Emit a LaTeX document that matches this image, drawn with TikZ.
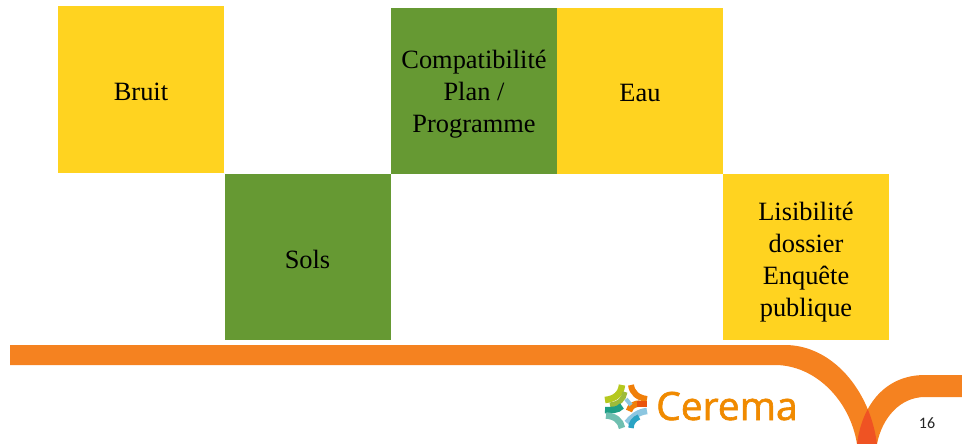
\documentclass[tikz,border=0pt]{standalone}
\usepackage{fontspec}
\setmainfont{Liberation Serif}
\newfontfamily\logofont[FakeBold=1.6]{Open Sans}
\newfontfamily\pagefont{Carlito}
\definecolor{tileyellow}{HTML}{FFD320}
\definecolor{tilegreen}{HTML}{669933}
\definecolor{bandorange}{HTML}{F58220}
\definecolor{bandred}{HTML}{EF5323}
\definecolor{logoorange}{HTML}{F08A00}
\definecolor{lgLime}{HTML}{B5C81E}
\definecolor{lgOlive}{HTML}{9DBB3A}
\definecolor{lgOrange}{HTML}{F07F09}
\definecolor{lgRed}{HTML}{E9540D}
\definecolor{lgTeal}{HTML}{1E9E85}
\definecolor{lgPale}{HTML}{6FBFB0}
\definecolor{lgSky}{HTML}{8CC6E0}
\definecolor{lgBlue}{HTML}{2AA3C4}
\tikzset{
  tile/.style={minimum width=166pt,minimum height=166pt,inner sep=0pt,outer sep=0pt},
  tiletext/.style={inner sep=0pt,outer sep=0pt,align=center,font=\fontsize{26.4pt}{32pt}\selectfont,text=black},
  ytile/.style={tile,fill=tileyellow},
  gtile/.style={tile,fill=tilegreen},
  lgarc/.style={line width=#1,line cap=butt}
}
\newcommand{\bandA}{(10,345) -- (785,345) .. controls (832,345) and (870,390) .. (877,444)
  -- (857,444) .. controls (850,400) and (815,365) .. (775,365) -- (10,365) -- cycle}
\newcommand{\bandB}{(962,375) -- (925,375) .. controls (885,375) and (862,405) .. (857,444)
  -- (877,444) .. controls (882,418) and (900,397) .. (925,397) -- (962,397) -- cycle}
\begin{document}
\begin{tikzpicture}[x=1pt,y=-1pt]
\useasboundingbox (0,0) rectangle (962,444);
\node[ytile,label={[tiletext,yshift=-2pt]center:Bruit}] (bruit) at (141,89.5) {};
\node[gtile,label={[tiletext,yshift=-2pt]center:Sols}] (sols) at (307.5,257) {};
\node[gtile,label={[tiletext,yshift=-3.5pt]center:{Compatibilité\\Plan /\\Programme}}] (compat) at (474,91) {};
\node[ytile,label={[tiletext,yshift=-2pt]center:Eau}] (eau) at (640,91) {};
\node[ytile,label={[tiletext,yshift=-5pt]center:{Lisibilité\\dossier\\Enquête\\publique}}] (lisib) at (806,257) {};
\fill[bandorange] \bandA;
\fill[bandorange] \bandB;
\begin{scope}
  \clip \bandA;
  \fill[bandred] \bandB;
\end{scope}
% logo
\draw[lgarc=6.5pt,lgLime] (622,385) .. controls (621,394) and (615,399) .. (605,400);
\draw[lgarc=5pt,lgOlive] (625,392) .. controls (624,399) and (619,404) .. (610,405);
\draw[lgarc=6pt,lgOrange] (631,385) .. controls (632,393) and (638,398) .. (647,399);
\draw[lgarc=6.5pt,lgOrange] (629,411) .. controls (630,406) and (635,403.5) .. (640,403.5);
\draw[lgarc=6pt,lgRed] (637,403.5) -- (647,403.5);
\draw[lgarc=6.5pt,lgTeal] (605,410) .. controls (611,410) and (617,411) .. (622,406);
\draw[lgarc=6.5pt,lgPale] (622,428) .. controls (621,421) and (615,416) .. (606,415.5);
\draw[lgarc=6.5pt,lgSky] (647,411) .. controls (638,412) and (632,417) .. (627,423);
\draw[lgarc=5.5pt,lgBlue] (631,428) .. controls (631,423) and (634,419) .. (639,417);
\draw[lgarc=4pt,lgSky] (626,399) -- (631,405);
\node[inner sep=0pt,anchor=base west,text=logoorange,font=\logofont\fontsize{39pt}{39pt}\selectfont] (cerema) at (656,420) {Cerema};
\node[inner sep=0pt,anchor=base,text=black!85,font=\pagefont\fontsize{16pt}{16pt}\selectfont] (page) at (927,428) {16};
\end{tikzpicture}
\end{document}
